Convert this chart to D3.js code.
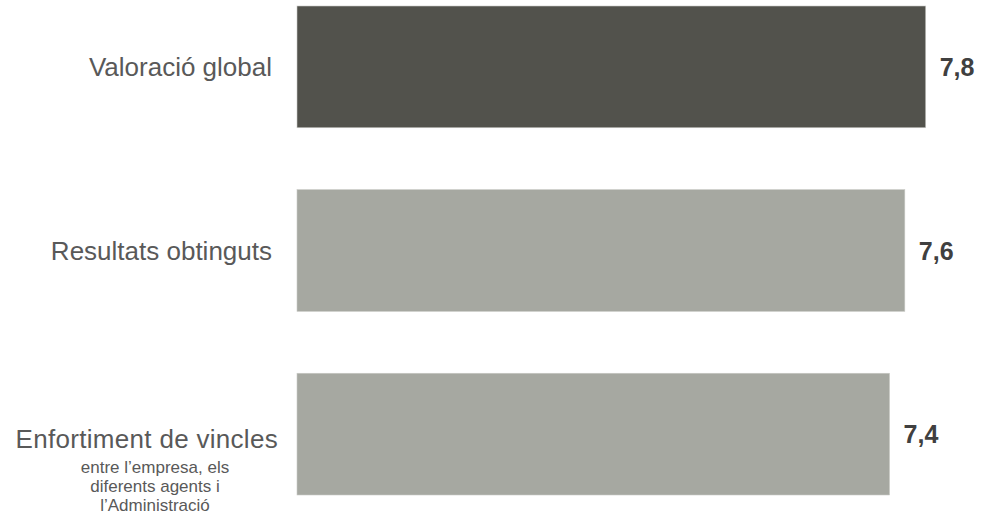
<!DOCTYPE html>
<html>
<head>
<meta charset="utf-8">
<script src="https://cdn.jsdelivr.net/npm/d3@7"></script>
<style>
  body { margin: 0; background: #fff; }
  svg { display: block; font-family: "Liberation Sans", Arial, sans-serif; }
</style>
</head>
<body>
<svg id="chart"></svg>
<script>
// categories and values
var categories = ["Valoració global", "Resultats obtinguts", "Enfortiment de vincles"]
var subtitles = [[], [], ["entre l\u2019empresa, els", "diferents agents i", "l\u2019Administració"]]
var values = [7.82, 7.56, 7.37]
var barColors = ["#52524c", "#a6a8a1", "#a6a8a1"]

var dimensions = {
    width: 982,
    height: 515,
    margin: { top: 6, bottom: 20, right: 56, left: 297 }
}

var svg = d3.select("#chart")
    .attr("width", dimensions.width)
    .attr("height", dimensions.height)

var xScale = d3.scaleLinear()
    .domain([0, 8])
    .range([dimensions.margin.left, dimensions.margin.left + 80.4 * 8])

var yScale = d3.scaleBand()
    .domain(categories)
    .range([dimensions.margin.top, dimensions.height - dimensions.margin.bottom])
    .paddingInner(0.337)
    .paddingOuter(0)

var fmt = d => d3.format(".1f")(d).replace(".", ",")

var bars = svg.selectAll("rect")
    .data(values)
    .enter()
    .append("rect")
    .attr("x", xScale(0))
    .attr("y", (d, i) => yScale(categories[i]))
    .attr("width", d => xScale(d) - xScale(0))
    .attr("height", yScale.bandwidth())
    .attr("fill", (d, i) => barColors[i])
    .attr("stroke", "#c9cac6")
    .attr("stroke-width", 0.6)

// value labels
svg.selectAll(".val")
    .data(values)
    .enter()
    .append("text")
    .attr("class", "val")
    .attr("x", d => xScale(d) + 14)
    .attr("y", (d, i) => yScale(categories[i]) + yScale.bandwidth() / 2)
    .attr("dy", "0.36em")
    .style("font-size", "25px")
    .style("font-weight", "bold")
    .style("fill", "#404040")
    .text(fmt)

// category labels
svg.selectAll(".cat")
    .data(categories)
    .enter()
    .append("text")
    .attr("class", "cat")
    .attr("x", (d, i) => i == 2 ? 278 : 272)
    .attr("y", d => yScale(d) + yScale.bandwidth() / 2 + (d == categories[2] ? 4.5 : 0))
    .attr("dy", "0.36em")
    .style("text-anchor", "end")
    .style("font-size", "26px")
    .style("letter-spacing", (d, i) => i == 2 ? "0.3px" : "0px")
    .style("fill", "#595959")
    .text(d => d)

subtitles.forEach(function (lines, i) {
    lines.forEach(function (line, j) {
        svg.append("text")
            .attr("x", 155)
            .attr("y", yScale(categories[i]) + yScale.bandwidth() / 2 + 38.5 + j * 19)
            .style("text-anchor", "middle")
            .style("font-size", "17px")
            .style("fill", "#595959")
            .text(line)
    })
})
</script>
</body>
</html>
